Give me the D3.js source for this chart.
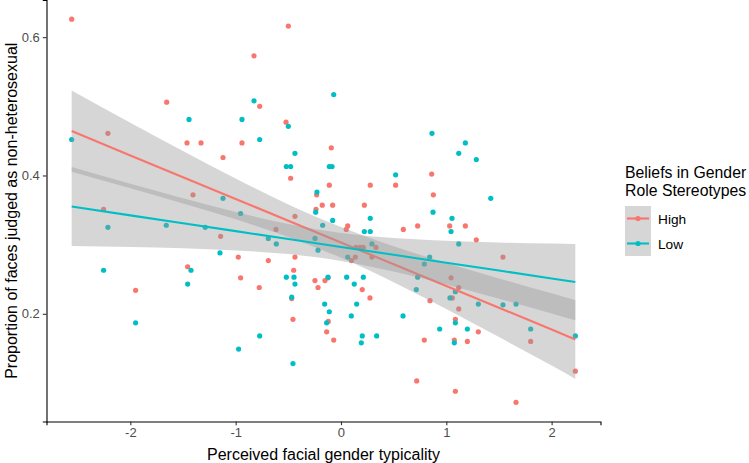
<!DOCTYPE html>
<html>
<head>
<meta charset="utf-8">
<script src="https://cdn.jsdelivr.net/npm/d3@7/dist/d3.min.js"></script>
<style>
  html, body { margin: 0; padding: 0; background: #fff; }
  svg { display: block; font-family: "Liberation Sans", Arial, sans-serif; }
</style>
</head>
<body>
<svg id="chart" width="749" height="463"></svg>
<script>
// ---- data ----
const highX = [-2.557,-2.254,-2.213,-1.950,-1.655,-1.462,-1.456,-1.405,-1.329,-1.143,-1.120,-0.975,-0.953,-0.940,-0.826,-0.776,-0.772,-0.690,-0.617,-0.522,-0.500,-0.478,-0.468,-0.456,-0.449,-0.437,-0.437,-0.247,-0.237,-0.231,-0.218,-0.178,-0.152,-0.136,-0.123,-0.121,-0.111,-0.092,-0.079,-0.069,0.050,0.064,0.100,0.136,0.142,0.180,0.202,0.212,0.222,0.275,0.278,0.294,0.332,0.519,0.592,0.719,0.728,0.791,0.845,0.861,0.877,1.032,1.045,1.057,1.076,1.086,1.086,1.118,1.118,1.181,1.200,1.285,1.304,1.538,1.662,1.801,2.225];
const highY = [0.626,0.351,0.461,0.234,0.506,0.447,0.268,0.372,0.447,0.312,0.426,0.282,0.252,0.447,0.573,0.238,0.500,0.277,0.322,0.477,0.616,0.396,0.222,0.192,0.263,0.341,0.282,0.248,0.351,0.372,0.238,0.357,0.248,0.174,0.252,0.189,0.386,0.440,0.357,0.162,0.322,0.327,0.277,0.282,0.296,0.296,0.235,0.296,0.357,0.223,0.386,0.282,0.296,0.386,0.322,0.103,0.327,0.162,0.219,0.402,0.372,0.327,0.252,0.223,0.162,0.192,0.088,0.238,0.207,0.327,0.160,0.307,0.174,0.282,0.072,0.160,0.117];
const lowX = [-2.557,-2.254,-2.213,-1.950,-1.659,-1.456,-1.443,-1.424,-1.289,-1.149,-1.120,-0.972,-0.953,-0.940,-0.826,-0.772,-0.772,-0.690,-0.614,-0.519,-0.519,-0.500,-0.478,-0.468,-0.456,-0.446,-0.437,-0.437,-0.247,-0.240,-0.228,-0.218,-0.174,-0.155,-0.136,-0.123,-0.111,-0.111,-0.085,-0.079,-0.069,0.054,0.064,0.098,0.126,0.149,0.193,0.202,0.212,0.222,0.278,0.278,0.294,0.339,0.519,0.589,0.715,0.728,0.791,0.842,0.864,0.874,0.937,1.035,1.045,1.054,1.076,1.086,1.086,1.118,1.118,1.181,1.200,1.285,1.304,1.422,1.538,1.662,1.801,2.225];
const lowY = [0.452,0.263,0.325,0.187,0.328,0.243,0.481,0.263,0.325,0.288,0.367,0.149,0.345,0.481,0.508,0.452,0.168,0.309,0.301,0.413,0.253,0.471,0.413,0.224,0.128,0.253,0.432,0.243,0.309,0.347,0.376,0.292,0.328,0.214,0.187,0.253,0.413,0.203,0.413,0.335,0.517,0.253,0.282,0.197,0.243,0.214,0.158,0.168,0.253,0.319,0.319,0.338,0.301,0.168,0.401,0.197,0.235,0.253,0.272,0.282,0.461,0.347,0.178,0.223,0.319,0.338,0.158,0.232,0.187,0.432,0.301,0.447,0.178,0.423,0.214,0.367,0.213,0.214,0.178,0.168];

// fitted lines and confidence half-widths
const fitX    = [-2.557,-2,-1.5,-1,-0.5,0,0.5,1,1.5,2,2.225];
const highFit = [0.4642,0.4290,0.3975,0.3661,0.3346,0.3032,0.2717,0.2403,0.2088,0.1774,0.1629];
const highCI  = [0.0588,0.0474,0.0379,0.0295,0.0236,0.0222,0.0260,0.0333,0.0424,0.0523,0.0570];
const lowFit  = [0.3551,0.3423,0.3309,0.3195,0.3081,0.2967,0.2853,0.2739,0.2625,0.2511,0.2459];
const lowCI   = [0.0571,0.0458,0.0362,0.0278,0.0217,0.0202,0.0242,0.0317,0.0407,0.0506,0.0552];

const xTicks = [-2,-1,0,1,2];
const yTicks = [0.2,0.4,0.6];
const groups = ["High","Low"];
const colors = ["#F8766D","#00BFC4"];
const legendTitle = ["Beliefs in Gender","Role Stereotypes"];
const xTitle = "Perceived facial gender typicality";
const yTitle = "Proportion of faces judged as non-heterosexual";

// ---- layout ----
const svg = d3.select("#chart");
const P = {left: 46.5, right: 600.5, top: 0, bottom: 421.5};

function expand(ext, f) { const d = ext[1]-ext[0]; return [ext[0]-d*f, ext[1]+d*f]; }
const allX = highX.concat(lowX);
const allY = highY.concat(lowY,
  highFit.map((v,i)=>v-highCI[i]), highFit.map((v,i)=>v+highCI[i]),
  lowFit.map((v,i)=>v-lowCI[i]), lowFit.map((v,i)=>v+lowCI[i]));

const x = d3.scaleLinear().domain(expand(d3.extent(allX), 0.05)).range([P.left, P.right]);
const y = d3.scaleLinear().domain(expand(d3.extent(allY), 0.05)).range([P.bottom, P.top]);

// points
const pts = svg.append("g");
const series = [
  {name:"High", xs:highX, ys:highY, fit:highFit, ci:highCI, color:colors[0]},
  {name:"Low",  xs:lowX,  ys:lowY,  fit:lowFit,  ci:lowCI,  color:colors[1]}
];
series.forEach(s => {
  pts.selectAll(null).data(s.xs.map((v,i)=>[v,s.ys[i]])).enter().append("circle")
    .attr("cx", d=>x(d[0])).attr("cy", d=>y(d[1])).attr("r", 2.6)
    .attr("fill", s.color);
});

// smooths: ribbon then line, per group
const area = d3.area().curve(d3.curveMonotoneX)
  .x(d=>x(d.x)).y0(d=>y(d.lo)).y1(d=>y(d.hi));
const line = d3.line().x(d=>x(d.x)).y(d=>y(d.f));
series.forEach(s => {
  const dd = fitX.map((v,i)=>({x:v, f:s.fit[i], lo:s.fit[i]-s.ci[i], hi:s.fit[i]+s.ci[i]}));
  svg.append("path").datum(dd).attr("d", area).attr("fill", "#999999").attr("fill-opacity", 0.4);
  svg.append("path").datum(dd).attr("d", line).attr("fill","none")
    .attr("stroke", s.color).attr("stroke-width", 2.1);
});

// axes
const xAxis = svg.append("g").attr("transform", `translate(0,${P.bottom})`)
  .call(d3.axisBottom(x).tickValues(xTicks).tickSize(3.7).tickPadding(3).tickFormat(d3.format("d")));
const yAxis = svg.append("g").attr("transform", `translate(${P.left},0)`)
  .call(d3.axisLeft(y).tickValues(yTicks).tickSize(3.7).tickPadding(3).tickFormat(d3.format(".1f")));
[xAxis, yAxis].forEach(a => {
  a.select(".domain").attr("stroke", "#000").attr("stroke-width", 1.1);
  a.selectAll(".tick line").attr("stroke", "#333").attr("stroke-width", 1.1);
  a.selectAll(".tick text").attr("fill", "#4D4D4D").attr("font-size", 13)
    .attr("font-family", "Liberation Sans, Arial, sans-serif");
});
xAxis.selectAll(".tick text").text(d => d < 0 ? "-" + Math.abs(d) : String(d));

// axis titles
svg.append("text").attr("x", (P.left+P.right)/2).attr("y", 460)
  .attr("text-anchor","middle").attr("font-size", 16).attr("fill","#000").text(xTitle);
svg.append("text").attr("transform", `translate(17,${(P.top+P.bottom)/2}) rotate(-90)`)
  .attr("text-anchor","middle").attr("font-size", 16).attr("fill","#000").text(yTitle);

// legend
const lg = svg.append("g").attr("transform","translate(625,0)");
legendTitle.forEach((t,i) => lg.append("text").attr("x",0).attr("y",178+i*18)
  .attr("font-size",15.8).attr("fill","#000").text(t));
groups.forEach((g,i) => {
  const ky = 206 + i*25;
  lg.append("rect").attr("x",0).attr("y",ky).attr("width",26).attr("height",25)
    .attr("fill","#999999").attr("fill-opacity",0.4);
  lg.append("line").attr("x1",2).attr("x2",24).attr("y1",ky+12.5).attr("y2",ky+12.5)
    .attr("stroke",colors[i]).attr("stroke-width",2.1);
  lg.append("circle").attr("cx",13).attr("cy",ky+12.5).attr("r",2.6).attr("fill",colors[i]);
  lg.append("text").attr("x",33).attr("y",ky+17.5).attr("font-size",13.7).attr("fill","#000").text(g);
});
</script>
</body>
</html>
